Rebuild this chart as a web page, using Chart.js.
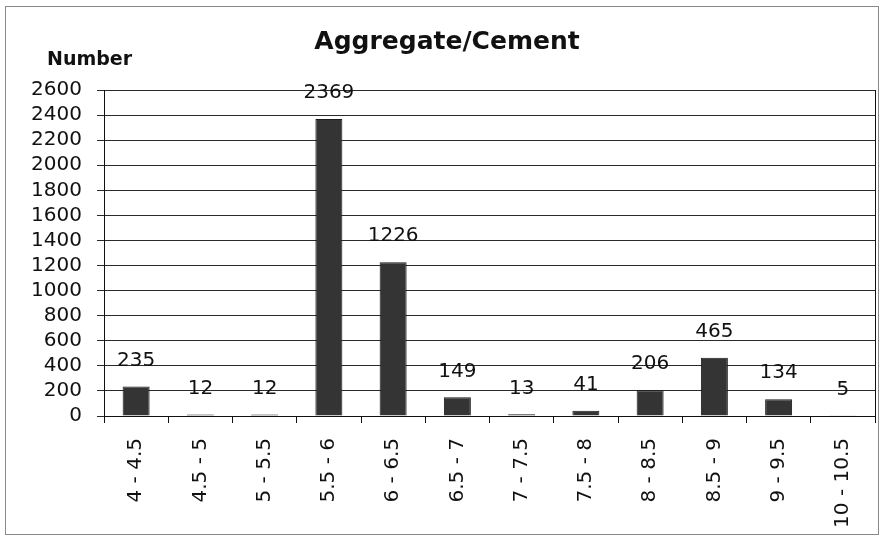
<!DOCTYPE html>
<html>
<head>
<meta charset="utf-8">
<script src="https://cdn.jsdelivr.net/npm/chart.js@4.4.1/dist/chart.umd.min.js"></script>
<style>
    body { margin: 0; background: #ffffff; }
    #wrap { width: 884px; height: 536px; }
</style>
</head>
<body>
<div id="wrap"><canvas id="aggChart" width="884" height="536"></canvas></div>
<script>
const categories = ["4 - 4.5", "4.5 - 5", "5 - 5.5", "5.5 - 6", "6 - 6.5", "6.5 - 7", "7 - 7.5", "7.5 - 8", "8 - 8.5", "8.5 - 9", "9 - 9.5", "10 - 10.5"];
const counts = [235, 12, 12, 2369, 1226, 149, 13, 41, 206, 465, 134, 5];
const chartTitle = "Aggregate/Cement";
const yLabel = "Number";
const yMax = 2600;
const yStep = 200;

const FONT = "'DejaVu Sans', 'Liberation Sans', Arial, sans-serif";

// draws title, the "Number" label, value labels and frame
const extras = {
    id: 'extras',
    beforeDraw(chart) {
        const ctx = chart.ctx;
        ctx.save();
        ctx.fillStyle = '#ffffff';
        ctx.fillRect(0, 0, chart.width, chart.height);
        ctx.strokeStyle = '#8a8a8a';
        ctx.lineWidth = 1;
        ctx.strokeRect(5.5, 6.5, 873, 528);
        ctx.restore();
    },
    afterDraw(chart) {
        const ctx = chart.ctx;
        const area = chart.chartArea;
        ctx.save();
        ctx.fillStyle = '#111';
        ctx.textAlign = 'center';
        ctx.textBaseline = 'middle';
        ctx.font = "bold 25px " + FONT;
        ctx.fillText(chartTitle, 447, 42);
        ctx.font = "bold 19px " + FONT;
        ctx.textAlign = 'left';
        ctx.fillText(yLabel, 47, 60);

        // right edge of plot area
        ctx.strokeStyle = '#111';
        ctx.beginPath();
        ctx.moveTo(Math.round(area.right) + 0.5, area.top);
        ctx.lineTo(Math.round(area.right) + 0.5, area.bottom + 7);
        ctx.stroke();

        ctx.font = "20px " + FONT;
        ctx.textAlign = 'center';
        const meta = chart.getDatasetMeta(0);
        meta.data.forEach((bar, i) => {
            ctx.fillText(String(counts[i]), bar.x, bar.y - 26);
        });
        ctx.restore();
    }
};

new Chart(document.getElementById('aggChart'), {
    type: 'bar',
    data: {
        labels: categories,
        datasets: [{
            data: counts,
            backgroundColor: '#343434',
            borderColor: '#1a1a1a',
            borderWidth: 1,
            barPercentage: 0.42,
            categoryPercentage: 1
        }]
    },
    options: {
        responsive: false,
        animation: false,
        layout: { padding: { top: 90, right: 9, left: 0, bottom: 0 } },
        plugins: {
            legend: { display: false },
            title: { display: false },
            tooltip: { enabled: false }
        },
        scales: {
            x: {
                afterFit(scale) { scale.height = 120; },
                grid: {
                    offset: true,
                    drawOnChartArea: false,
                    color: '#111',
                    tickLength: 7
                },
                border: { color: '#111', width: 1 },
                ticks: {
                    color: '#111',
                    font: { family: FONT, size: 20 },
                    minRotation: 90,
                    maxRotation: 90,
                    padding: 15,
                    autoSkip: false
                }
            },
            y: {
                min: 0,
                max: yMax,
                afterFit(scale) { scale.width = 104; },
                grid: {
                    color: '#2a2a2a',
                    tickLength: 7
                },
                border: { color: '#111', width: 1 },
                ticks: {
                    stepSize: yStep,
                    autoSkip: false,
                    callback: (v) => String(v),
                    color: '#111',
                    font: { family: FONT, size: 20 },
                    padding: 15
                }
            }
        }
    },
    plugins: [extras]
});
</script>
</body>
</html>
